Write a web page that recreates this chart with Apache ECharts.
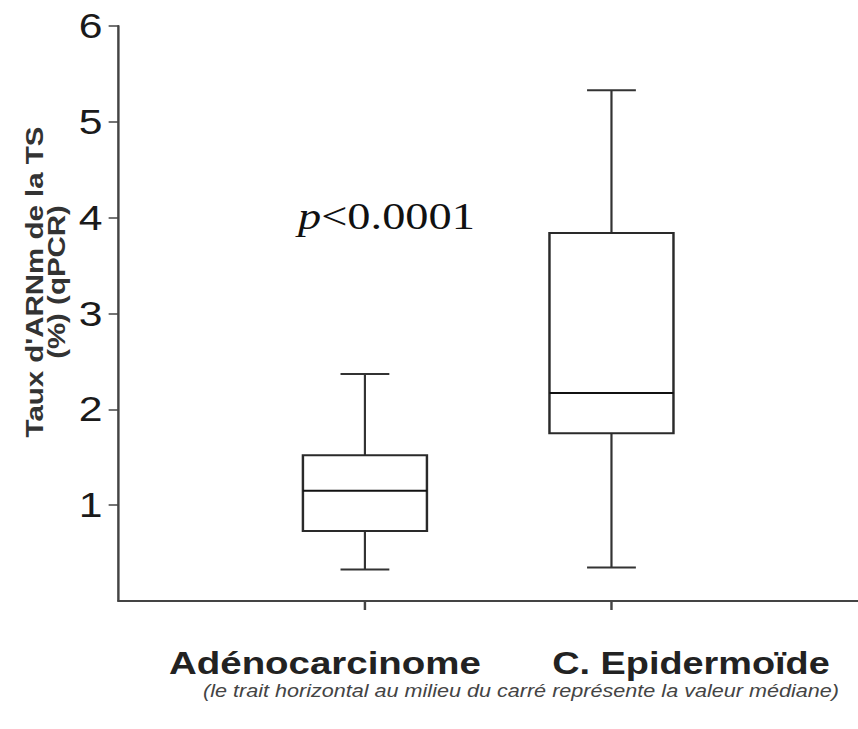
<!DOCTYPE html>
<html>
<head>
<meta charset="utf-8">
<script src="https://cdn.jsdelivr.net/npm/echarts@6/dist/echarts.min.js"></script>
<style>
  html, body { margin: 0; padding: 0; background: #fff; overflow: hidden; }
  #wrap { width: 858px; height: 729px; overflow: hidden; }
  #chart { width: 703px; height: 729px; transform: scaleX(1.2205); transform-origin: 0 0; }
</style>
</head>
<body>
<div id="wrap"><div id="chart"></div></div>
<script>
// ---- data ----
const groups = ['Adénocarcinome', 'C. Epidermoïde'];
const whiskerLow  = [0.33, 0.35];
const quartile1   = [0.73, 1.75];
const medians     = [1.15, 2.17];
const quartile3   = [1.52, 3.84];
const whiskerHigh = [2.37, 5.33];
const yTicks = [1, 2, 3, 4, 5, 6];
const yTitle = "Taux d'ARNm de la TS\n(%) (qPCR)";
const pText = '<0.0001';
const caption = '(le trait horizontal au milieu du carré représente la valeur médiane)';

// category axis: padded so the two groups sit at 1/3 and 2/3 of the axis
const axisCats = [''].concat(groups, ['']);
const boxData = groups.map((g, i) => [i + 1, whiskerLow[i], quartile1[i], medians[i], quartile3[i], whiskerHigh[i]]);

const chart = echarts.init(document.getElementById('chart'), null, { renderer: 'svg' });

const option = {
  animation: false,
  backgroundColor: '#fff',
  grid: { left: 97, right: 0, top: 26, bottom: 128 },
  xAxis: {
    type: 'category',
    data: axisCats,
    boundaryGap: false,
    axisLine: { lineStyle: { color: '#444', width: 2 } },
    axisTick: { show: true, length: 9, lineStyle: { color: '#444', width: 2 },
                interval: (idx) => idx === 1 || idx === 2 },
    axisLabel: { show: false },
    splitLine: { show: false }
  },
  yAxis: {
    type: 'value',
    min: 0, max: 6, interval: 1,
    axisLine: { show: true, lineStyle: { color: '#444', width: 2 } },
    axisTick: { show: true, length: 8, lineStyle: { color: '#444', width: 1.5 }, customValues: yTicks },
    axisLabel: { fontFamily: 'Liberation Sans', fontSize: 35, color: '#1a1a1a', margin: 13, customValues: yTicks },
    splitLine: { show: false }
  },
  series: [{
    type: 'custom',
    silent: true,
    clip: false,
    encode: { x: 0, y: [1, 2, 3, 4, 5] },
    data: boxData,
    renderItem: function (params, api) {
      const cat = api.value(0);
      const v = [1, 2, 3, 4, 5].map(i => api.value(i));
      const x = api.coord([cat, v[0]])[0];
      const y = v.map(val => api.coord([cat, val])[1]);
      const band = api.size([1, 0])[0];
      const hb = band * 0.2515;
      const hc = band * 0.099;
      return {
        type: 'group',
        children: [
          { type: 'line', shape: { x1: x, y1: y[0], x2: x, y2: y[1] }, style: { stroke: '#333', lineWidth: 1.8 } },
          { type: 'line', shape: { x1: x, y1: y[3], x2: x, y2: y[4] }, style: { stroke: '#333', lineWidth: 1.8 } },
          { type: 'line', shape: { x1: x - hc, y1: y[0], x2: x + hc, y2: y[0] }, style: { stroke: '#333', lineWidth: 2 } },
          { type: 'line', shape: { x1: x - hc, y1: y[4], x2: x + hc, y2: y[4] }, style: { stroke: '#333', lineWidth: 2 } },
          { type: 'rect', shape: { x: x - hb, y: y[3], width: 2 * hb, height: y[1] - y[3] }, style: { stroke: '#2a2a2a', lineWidth: 2, fill: '#fff' } },
          { type: 'line', shape: { x1: x - hb, y1: y[2], x2: x + hb, y2: y[2] }, style: { stroke: '#111', lineWidth: 2 } }
        ]
      };
    }
  }],
  graphic: [
    {
      type: 'text', x: 38.1, y: 282, rotation: Math.PI / 2, scaleX: 1.55,
      style: { text: yTitle, fontFamily: 'Liberation Sans', fontWeight: 'bold', fontSize: 19,
               lineHeight: 18, fill: '#333', align: 'center', verticalAlign: 'middle' }
    },
    {
      type: 'text', x: 244.2, y: 216,
      style: { text: '{p|p}{n|' + pText + '}', fill: '#111', align: 'left', verticalAlign: 'middle',
               rich: { p: { fontFamily: 'Liberation Serif', fontStyle: 'italic', fontSize: 38, fill: '#111' },
                       n: { fontFamily: 'Liberation Serif', fontSize: 38, fill: '#111' } } }
    },
    {
      type: 'text', x: 138.5, y: 663,
      style: { text: groups[0], fontFamily: 'Liberation Sans', fontWeight: 'bold', fontSize: 31.5,
               fill: '#222', align: 'left', verticalAlign: 'middle' }
    },
    {
      type: 'text', x: 452.5, y: 663,
      style: { text: groups[1], fontFamily: 'Liberation Sans', fontWeight: 'bold', fontSize: 31,
               fill: '#222', align: 'left', verticalAlign: 'middle' }
    },
    {
      type: 'text', x: 166.3, y: 691,
      style: { text: caption, fontFamily: 'Liberation Sans', fontStyle: 'italic', fontSize: 17.7,
               fill: '#444', align: 'left', verticalAlign: 'middle' }
    }
  ]
};
chart.setOption(option);
</script>
</body>
</html>
